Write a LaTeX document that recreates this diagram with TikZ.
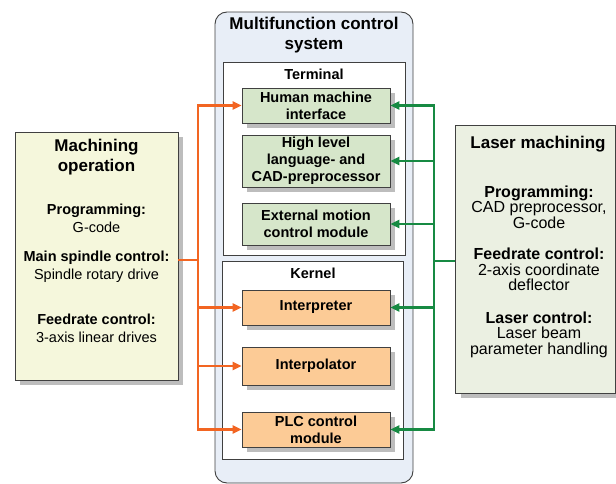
\documentclass[tikz,border=0pt]{standalone}
\usepackage{fontspec}
\setmainfont{Liberation Sans}
\usetikzlibrary{arrows.meta,shadows}
\definecolor{sysblue}{HTML}{E8EEF7}
\definecolor{edgegray}{HTML}{404040}
\definecolor{shadegray}{HTML}{BDBDBD}
\definecolor{termgreen}{HTML}{D6E6CA}
\definecolor{kernorange}{HTML}{FCCB96}
\definecolor{machyellow}{HTML}{F5F7DC}
\definecolor{lasergreen}{HTML}{EBF0E2}
\definecolor{busorange}{HTML}{F26522}
\definecolor{busgreen}{HTML}{178A43}

\tikzset{
  shade/.style={general shadow={fill=shadegray, shadow xshift=5pt, shadow yshift=-5pt}},
  unit/.style={draw=edgegray, line width=0.9pt, shade, minimum width=148pt,
    inner sep=0pt, align=center, font=\fontsize{14.5}{17}\selectfont\bfseries},
  termunit/.style={unit, fill=termgreen},
  kernunit/.style={unit, fill=kernorange},
  frame/.style={draw=edgegray, line width=0.8pt, fill=white, inner sep=0pt},
  side/.style={draw=edgegray, line width=0.9pt, shade, inner sep=0pt},
  head/.style={align=center, font=\fontsize{17}{20}\selectfont\bfseries},
  lhs/.style={align=center, font=\fontsize{14.5}{18}\selectfont},
  rhs/.style={align=center, font=\fontsize{16}{15.5}\selectfont},
  obus/.style={draw=busorange, line width=2.4pt},
  gbus/.style={draw=busgreen, line width=2.4pt},
  tip/.style={-{Triangle[length=9pt,width=8pt]}}
}

\begin{document}
\begin{tikzpicture}[x=1pt, y=-1pt]
  \useasboundingbox (0,0) rectangle (616,484);

  % control system
  \node[draw=edgegray, line width=0.9pt, fill=sysblue, rounded corners=12pt,
    minimum width=198pt, minimum height=471pt] (mcs) at (314,247.5) {};
  \node[head] (mcstitle) at (314,35) {Multifunction control\\system};

  \node[frame, minimum width=182pt, minimum height=193pt] (term) at (314,158.5) {};
  \node[font=\fontsize{14.5}{17}\selectfont\bfseries] (termtitle) at (314,74) {Terminal};
  \node[frame, minimum width=181pt, minimum height=198pt] (kern) at (312.5,360) {};
  \node[font=\fontsize{14.5}{17}\selectfont\bfseries] (kerntitle) at (313,273) {Kernel};

  \node[termunit, minimum height=35pt] (hmi) at (316,105.5) {Human machine\\interface};
  \node[termunit, minimum height=52pt] (hll) at (316,161) {High level\\language- and\\CAD-preprocessor};
  \node[termunit, minimum height=42pt] (emc) at (316,224) {External motion\\control module};

  \node[kernunit, minimum height=35pt] (interp) at (316,307.5) {Interpreter};
  \node[kernunit, minimum height=38pt] (ipol) at (316,366) {Interpolator};
  \node[kernunit, minimum height=35pt] (plc) at (316,429.5) {PLC control\\module};

  % machining operation
  \node[side, fill=machyellow, minimum width=163pt, minimum height=248pt] (mach) at (96.5,256) {};
  \node[head] (machtitle) at (96.5,157) {Machining\\operation};
  \node[lhs] (machprog) at (96.5,218) {\textbf{Programming:}\\G-code};
  \node[lhs] (machspin) at (96.5,267) {\textbf{Main spindle control:}\\Spindle rotary drive};
  \node[lhs] (machfeed) at (96.5,328) {\textbf{Feedrate control:}\\3-axis linear drives};

  % laser machining
  \node[side, fill=lasergreen, minimum width=160pt, minimum height=268pt] (laser) at (535.5,259) {};
  \node[head] (lasertitle) at (538,144) {Laser machining};
  \node[rhs] (laserprog) at (539,207) {\textbf{Programming:}\\CAD preprocessor,\\G-code};
  \node[rhs] (laserfeed) at (539,269.5) {\textbf{Feedrate control:}\\2-axis coordinate\\deflector};
  \node[rhs] (laserctl) at (539,334.5) {\textbf{Laser control:}\\Laser beam\\parameter handling};

  % buses
  \coordinate (ojoin) at (198,260);
  \coordinate (gjoin) at (434,261);
  \draw[obus] (mach.east |- ojoin) -- (ojoin);
  \foreach \dest in {hmi, interp, ipol, plc}
    \draw[obus, tip] (ojoin) |- (\dest.west);
  \draw[gbus] (laser.west |- gjoin) -- (gjoin);
  \foreach \dest in {hmi, hll, emc, interp, plc}
    \draw[gbus, tip] (gjoin) |- (\dest.east);
\end{tikzpicture}
\end{document}
